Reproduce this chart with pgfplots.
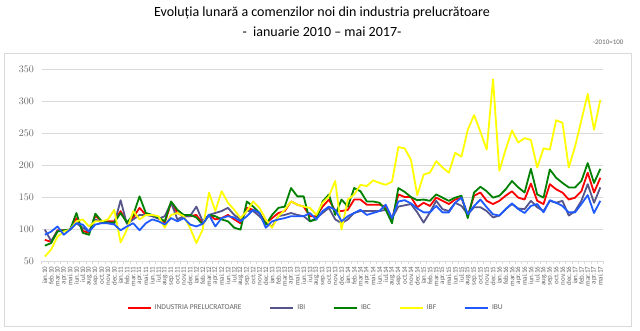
\documentclass[border=0pt]{standalone}
\usepackage{fontspec}
\setmainfont{Carlito}
\usepackage{pgfplots}
\usepackage{pgfplotstable}
\pgfplotsset{compat=1.18}
\definecolor{cInd}{RGB}{255,0,0}
\definecolor{cIBI}{RGB}{85,85,140}
\definecolor{cIBC}{RGB}{0,128,0}
\definecolor{cIBF}{RGB}{255,255,0}
\definecolor{cIBU}{RGB}{30,90,255}
\definecolor{txtgray}{RGB}{100,100,100}
\definecolor{gridgray}{RGB}{217,217,217}
\pgfplotstableread{
i ind ibi ibc ibf ibu
0 83 99 74 57 91
1 80 81 78 68 96
2 98 97 96 88 104
3 98 98 98 96 91
4 99 99 99 99 99
5 117 109 125 112 109
6 97 102 94 115 107
7 94 96 91 104 96
8 121 115 124 112 107
9 112 110 112 112 109
10 112 109 110 115 109
11 112 108 110 130 107
12 128 145 125 79 98
13 110 108 110 99 104
14 118 115 122 128 109
15 133 122 151 115 98
16 122 122 125 122 109
17 122 120 122 122 115
18 117 116 118 120 112
19 110 120 112 102 107
20 141 141 143 122 117
21 125 115 130 125 112
22 120 120 122 120 117
23 120 120 122 102 107
24 122 135 118 78 104
25 109 112 107 99 108
26 122 122 122 157 122
27 115 125 120 128 104
28 117 128 115 159 117
29 122 133 112 141 120
30 115 122 102 130 118
31 109 115 99 117 112
32 133 128 143 128 120
33 130 128 135 143 130
34 125 120 125 133 125
35 109 109 107 115 102
36 117 104 122 102 112
37 125 120 133 120 115
38 128 122 135 130 117
39 143 125 164 143 120
40 138 122 151 138 120
41 135 120 151 135 120
42 120 112 112 133 125
43 120 117 115 122 115
44 135 125 143 141 128
45 146 133 154 151 135
46 128 115 122 175 130
47 128 109 146 99 112
48 130 115 135 146 120
49 146 125 164 154 125
50 146 128 159 169 130
51 138 128 143 167 122
52 138 128 143 176 125
53 138 128 141 172 128
54 135 130 130 169 138
55 115 117 109 174 117
56 154 135 164 228 143
57 150 137 158 226 145
58 150 139 150 208 140
59 134 126 145 153 132
60 141 110 146 185 126
61 136 126 144 188 126
62 149 144 154 206 136
63 144 131 149 196 126
64 139 128 144 188 126
65 146 141 149 219 141
66 149 136 152 213 149
67 121 123 117 255 123
68 152 134 157 278 136
69 157 134 166 252 146
70 144 128 159 224 134
71 139 118 149 334 123
72 144 121 152 191 121
73 152 131 162 224 131
74 159 139 175 254 140
75 149 132 165 235 131
76 146 131 157 242 125
77 171 144 194 239 136
78 144 134 154 196 139
79 139 128 149 226 126
80 170 144 193 224 145
81 162 141 180 270 141
82 157 144 172 266 136
83 146 121 165 196 126
84 149 128 165 229 126
85 159 144 175 270 139
86 188 170 203 311 153
87 157 141 172 255 125
88 180 165 194 302 144
}\datatable
\begin{document}
\begin{tikzpicture}
\useasboundingbox (0,0) rectangle (640pt,330pt);
\draw[gridgray, line width=0.8pt] (4pt,4pt) rectangle (631pt,277pt);
\node[font=\fontsize{14}{15}\selectfont, text=black] at (322pt,317pt) {Evoluția lunară a comenzilor noi din industria prelucrătoare};
\node[font=\fontsize{14}{15}\selectfont, text=black] at (322pt,298pt) {-\ \ ianuarie 2010 -- mai 2017-};
\node[font=\fontsize{7}{7}\selectfont, text=txtgray, anchor=east] at (627pt,288pt) {-2010=100};
\begin{axis}[
  at={(41.7pt,69pt)}, anchor=south west, scale only axis,
  width=561.8pt, height=192pt,
  xmin=-0.5, xmax=88.5, ymin=50, ymax=350,
  ytick={50,100,...,350},
  ymajorgrids, grid style={gridgray, line width=0.8pt},
  axis x line*=bottom, axis y line*=left,
  x axis line style={gridgray, line width=0.8pt, -},
  y axis line style={draw=none},
  ytick style={draw=none},
  y tick label style={font=\fontsize{10}{10}\selectfont, text=txtgray},
  xtick={0,...,88},
  major x tick style={draw=none},
  minor xtick={-0.5,0.5,...,88.5},
  minor x tick style={gridgray, line width=0.6pt},
  tick align=outside, minor tick length=3pt,
  xticklabels={ian.10,feb.10,mar.10,apr.10,mai.10,iun.10,iul.10,aug.10,sep.10,oct.10,nov.10,dec.10,
  ian.11,feb.11,mar.11,apr.11,mai.11,iun.11,iul.11,aug.11,sep.11,oct.11,nov.11,dec.11,
  ian.12,feb.12,mar.12,apr.12,mai.12,iun.12,iul.12,aug.12,sep.12,oct.12,nov.12,dec.12,
  ian.13,feb.13,mar.13,apr.13,mai.13,iun.13,iul.13,aug.13,sep.13,oct.13,nov.13,dec.13,
  ian.14,feb.14,mar.14,apr.14,mai.14,iun.14,iul.14,aug.14,sep.14,oct.14,nov.14,dec.14,
  ian.15,feb.15,mar.15,apr.15,mai.15,iun.15,iul.15,aug.15,sep.15,oct.15,nov.15,dec.15,
  ian.16,feb.16,mar.16,apr.16,mai.16,iun.16,iul.16,aug.16,sep.16,oct.16,nov.16,dec.16,
  ian.17,feb.17,mar.17,apr.17,mai.17},
  x tick label style={rotate=90, anchor=east, font=\fontsize{7}{7}\selectfont, text=txtgray, inner sep=1pt},
  legend columns=-1,
  legend style={at={(axis description cs:0.488,-0.245)}, anchor=center, draw=none,
    font=\fontsize{7.5}{7.5}\selectfont, text=txtgray,
    /tikz/every even column/.append style={column sep=26pt},
    /tikz/every odd column/.append style={column sep=1pt}},
  legend image code/.code={\draw[#1] (0pt,0pt) -- (23pt,0pt);},
  every axis plot/.append style={line width=1.8pt, line join=round},
]
\addplot[cInd] table[x=i, y=ind] {\datatable};
\addlegendentry{INDUSTRIA PRELUCRATOARE}
\addplot[cIBI] table[x=i, y=ibi] {\datatable};
\addlegendentry{IBI}
\addplot[cIBC] table[x=i, y=ibc] {\datatable};
\addlegendentry{IBC}
\addplot[cIBF] table[x=i, y=ibf] {\datatable};
\addlegendentry{IBF}
\addplot[cIBU] table[x=i, y=ibu] {\datatable};
\addlegendentry{IBU}
\end{axis}
\end{tikzpicture}
\end{document}
